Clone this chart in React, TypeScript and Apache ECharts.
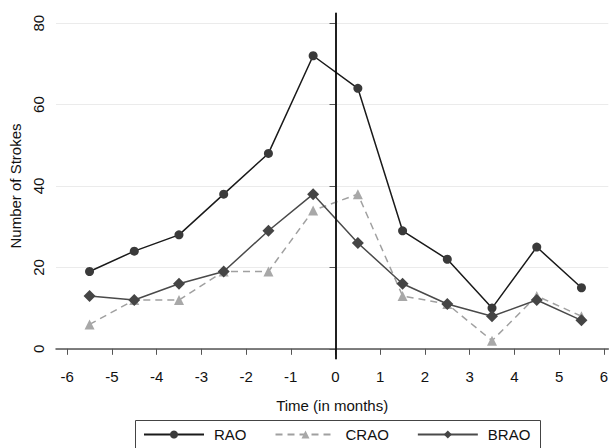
import React, { useEffect, useRef } from "react";
import * as echarts from "echarts";

const months = [-5.5, -4.5, -3.5, -2.5, -1.5, -0.5, 0.5, 1.5, 2.5, 3.5, 4.5, 5.5];
const rao = [19, 24, 28, 38, 48, 72, 64, 29, 22, 10, 25, 15];
const crao = [6, 12, 12, 19, 19, 34, 38, 13, 11, 2, 13, 8];
const brao = [13, 12, 16, 19, 29, 38, 26, 16, 11, 8, 12, 7];
const xTicks = [-6, -5, -4, -3, -2, -1, 0, 1, 2, 3, 4, 5, 6];
const yTicks = [0, 20, 40, 60, 80];

const pairs = (vals: number[]) => months.map((m, i) => [m, vals[i]]);

export default function App() {
  const ref = useRef<HTMLDivElement>(null);
  useEffect(() => {
    const chart = echarts.init(ref.current!, undefined, { renderer: "svg" });
    const font = "'Liberation Sans', Arial, Helvetica, sans-serif";
    chart.setOption({
      animation: false,
      backgroundColor: "#ffffff",
      textStyle: { fontFamily: font },
      grid: { left: 56, right: 0, top: 13, bottom: 89, containLabel: false },
      xAxis: {
        type: "value",
        min: -6.25,
        max: 6.1,
        name: "Time (in months)",
        nameLocation: "middle",
        nameGap: 39,
        nameTextStyle: { fontSize: 15, color: "#111", fontFamily: font },
        axisLine: { lineStyle: { color: "#555", width: 1.5 } },
        axisTick: { show: true, length: 6, customValues: xTicks, lineStyle: { color: "#555", width: 1 } },
        axisLabel: { customValues: xTicks, fontSize: 15, color: "#111", margin: 10, fontFamily: font },
        splitLine: { show: false },
      },
      yAxis: {
        type: "value",
        min: -2.5,
        max: 82.5,
        name: "Number of Strokes",
        nameLocation: "middle",
        nameGap: 29,
        nameTextStyle: { fontSize: 15, color: "#111", fontFamily: font },
        axisLine: { show: true, lineStyle: { color: "#555", width: 1.5 } },
        axisTick: { show: true, length: 6, customValues: yTicks, lineStyle: { color: "#555", width: 1 } },
        axisLabel: { customValues: yTicks, rotate: 90, fontSize: 15, color: "#111", margin: 10, fontFamily: font },
        splitLine: { show: true, lineStyle: { color: "#ebebeb", width: 1 } },
      },
      legend: {
        left: 143,
        top: 427,
        padding: 0,
        itemWidth: 60,
        itemHeight: 10,
        itemGap: 28,
        textStyle: { fontSize: 15, color: "#111", fontFamily: font, padding: [0, 0, 0, 5] },
        data: ["RAO", "CRAO", "BRAO"],
      },
      graphic: [
        {
          type: "rect",
          shape: { x: 135.5, y: 420.5, width: 405, height: 40 },
          style: { fill: "none", stroke: "#444", lineWidth: 1 },
          z: -1,
        },
      ],
      series: [
        {
          name: "RAO",
          type: "line",
          data: pairs(rao),
          symbol: "circle",
          symbolSize: 9,
          itemStyle: { color: "#3a3a3a" },
          lineStyle: { color: "#1a1a1a", width: 1.5 },
          z: 3,
          markLine: {
            silent: true,
            symbol: "none",
            label: { show: false },
            lineStyle: { color: "#000", width: 1.5, type: "solid" },
            data: [{ xAxis: 0 }],
          },
        },
        {
          name: "CRAO",
          type: "line",
          data: pairs(crao),
          symbol: "triangle",
          symbolSize: 10,
          itemStyle: { color: "#a8a8a8" },
          lineStyle: { color: "#a0a0a0", width: 1.5, type: [7, 5] },
          z: 2,
        },
        {
          name: "BRAO",
          type: "line",
          data: pairs(brao),
          symbol: "diamond",
          symbolSize: 12,
          itemStyle: { color: "#454545" },
          lineStyle: { color: "#4a4a4a", width: 1.5 },
          z: 4,
        },
      ],
    });
    return () => chart.dispose();
  }, []);
  return (
    <div
      ref={ref}
      style={{ position: "fixed", left: 0, top: 0, width: 611, height: 448 }}
    />
  );
}
